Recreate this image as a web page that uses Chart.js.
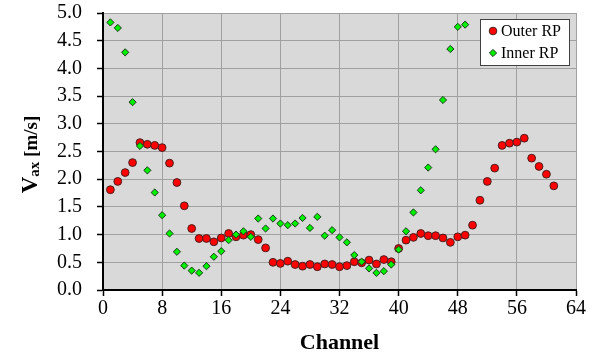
<!DOCTYPE html>
<html lang="en">
<head>
    <meta charset="UTF-8">
    <title>Vax per channel</title>
    <script src="https://cdn.jsdelivr.net/npm/chart.js"></script>
    <style>
        html, body { margin: 0; padding: 0; background: #ffffff; }
        #wrap { width: 598px; height: 358px; }
    </style>
</head>
<body>
    <div id="wrap"><canvas id="vaxChart"></canvas></div>
    <script>
        // values
        const outerChannels = [1, 2, 3, 4, 5, 6, 7, 8, 9, 10, 11, 12, 13, 14, 15, 16, 17, 18, 19, 20,
            21, 22, 23, 24, 25, 26, 27, 28, 29, 30, 31, 32, 33, 34, 35, 36, 37, 38, 39, 40,
            41, 42, 43, 44, 45, 46, 47, 48, 49, 50, 51, 52, 53, 54, 55, 56, 57, 58, 59, 60, 61];
        const outerRP = [1.81, 1.96, 2.12, 2.30, 2.66, 2.63, 2.61, 2.57, 2.29, 1.94,
            1.52, 1.11, 0.93, 0.93, 0.87, 0.94, 1.02, 0.96, 0.99, 1.00,
            0.91, 0.76, 0.50, 0.48, 0.52, 0.46, 0.43, 0.46, 0.42, 0.47,
            0.46, 0.42, 0.44, 0.51, 0.49, 0.54, 0.47, 0.55, 0.51, 0.75,
            0.90, 0.95, 1.02, 0.98, 0.98, 0.94, 0.86, 0.96, 0.99, 1.17,
            1.62, 1.96, 2.20, 2.61, 2.65, 2.67, 2.74, 2.38, 2.23, 2.09, 1.88];

        const innerChannels = [1, 2, 3, 4, 5, 6, 7, 8, 9, 10, 11, 12, 13, 14, 15, 16, 17, 18, 19, 20,
            21, 22, 23, 24, 25, 26, 27, 28, 29, 30, 31, 32, 33, 34, 35, 36, 37, 38, 39, 40,
            41, 42, 43, 44, 45, 46, 47, 48, 49];
        const innerRP = [4.83, 4.73, 4.29, 3.39, 2.60, 2.16, 1.76, 1.35, 1.02, 0.69,
            0.44, 0.35, 0.31, 0.43, 0.60, 0.70, 0.90, 1.00, 1.06, 0.96,
            1.29, 1.11, 1.29, 1.20, 1.17, 1.20, 1.30, 1.12, 1.32, 0.98,
            1.08, 0.95, 0.86, 0.63, 0.51, 0.39, 0.31, 0.34, 0.46, 0.73,
            1.06, 1.40, 1.80, 2.21, 2.54, 3.43, 4.35, 4.75, 4.79];

        const seriesNames = ["Outer RP", "Inner RP"];
        const xTicks = [0, 8, 16, 24, 32, 40, 48, 56, 64];
        const yTicks = [0, 0.5, 1, 1.5, 2, 2.5, 3, 3.5, 4, 4.5, 5];

        const serif = "'Liberation Serif', 'Times New Roman', serif";

        function toPoints(xs, ys) {
            return xs.map((x, i) => ({ x: x, y: ys[i] }));
        }

        // grey plot background
        const plotBackground = {
            id: "plotBackground",
            beforeDraw(chart) {
                const { ctx, chartArea: a } = chart;
                ctx.save();
                ctx.fillStyle = "#d9d9d9";
                ctx.fillRect(a.left, a.top, a.right - a.left, a.bottom - a.top);
                ctx.restore();
            }
        };

        // axis titles (y title needs a subscript) and the boxed legend inside the plot
        const titlesAndLegend = {
            id: "titlesAndLegend",
            afterDraw(chart) {
                const { ctx, chartArea: a } = chart;
                ctx.save();
                ctx.fillStyle = "#000";

                // x title
                ctx.font = "bold 22px " + serif;
                ctx.textAlign = "center";
                ctx.textBaseline = "middle";
                ctx.fillText("Channel", (a.left + a.right) / 2, 343);

                // y title: V_ax [m/s]
                const parts = [
                    { t: "V", f: "bold 23px " + serif, dy: 0 },
                    { t: "ax", f: "bold 15px " + serif, dy: 2 },
                    { t: " [m/s]", f: "bold 19px " + serif, dy: 0 }
                ];
                let total = 0;
                parts.forEach(p => { ctx.font = p.f; p.w = ctx.measureText(p.t).width; total += p.w; });
                const cy = (a.top + a.bottom) / 2 + 3;
                ctx.rotate(-Math.PI / 2);
                ctx.textAlign = "left";
                ctx.textBaseline = "alphabetic";
                let pos = -(cy + total / 2);
                parts.forEach(p => {
                    ctx.font = p.f;
                    ctx.fillText(p.t, pos, 36.7 + p.dy);
                    pos += p.w;
                });
                ctx.setTransform(1, 0, 0, 1, 0, 0);

                // legend
                const bx = a.right - 96, by = a.top + 6, bw = 89, bh = 46;
                ctx.fillStyle = "#ffffff";
                ctx.fillRect(bx, by, bw, bh);
                ctx.strokeStyle = "#404040";
                ctx.lineWidth = 1;
                ctx.strokeRect(bx + 0.5, by + 0.5, bw, bh);
                const order = [1, 0]; // Outer first, Inner second
                order.forEach((di, row) => {
                    const ds = chart.data.datasets[di];
                    const ry = by + 12 + row * 22;
                    ctx.fillStyle = ds.backgroundColor;
                    ctx.strokeStyle = ds.borderColor;
                    ctx.lineWidth = 1;
                    Chart.helpers.drawPoint(ctx, {
                        pointStyle: ds.pointStyle, rotation: 0,
                        radius: ds.pointStyle === "circle" ? 3.8 : 3.6, borderWidth: 1
                    }, bx + 13, ry);
                    ctx.fillStyle = "#000";
                    ctx.font = "16px " + serif;
                    ctx.textAlign = "left";
                    ctx.textBaseline = "middle";
                    ctx.fillText(ds.label, bx + 21, ry + 1);
                });
                ctx.restore();
            }
        };

        new Chart(document.getElementById("vaxChart"), {
            type: "scatter",
            data: {
                datasets: [
                    {
                        label: seriesNames[1],
                        data: toPoints(innerChannels, innerRP),
                        pointStyle: "rectRot",
                        pointRadius: 3.6,
                        backgroundColor: "#00ee00",
                        borderColor: "#1a3a1a",
                        borderWidth: 1,
                        order: 0
                    },
                    {
                        label: seriesNames[0],
                        data: toPoints(outerChannels, outerRP),
                        pointStyle: "circle",
                        pointRadius: 3.9,
                        backgroundColor: "#ff0000",
                        borderColor: "#4a2020",
                        borderWidth: 1,
                        order: 1
                    }
                ]
            },
            options: {
                responsive: true,
                maintainAspectRatio: false,
                animation: false,
                clip: false,
                layout: { padding: { top: 13, right: 22, bottom: 0, left: 0 } },
                plugins: {
                    legend: { display: false },
                    tooltip: { enabled: false }
                },
                scales: {
                    x: {
                        type: "linear",
                        min: 0,
                        max: 64,
                        afterBuildTicks: s => { s.ticks = xTicks.map(v => ({ value: v })); },
                        afterFit: s => { s.height = 68; s.paddingLeft = 0; s.paddingRight = 0; },
                        grid: { color: "#a0a0a0", lineWidth: 1, tickColor: "#000", tickLength: 6, tickWidth: 1.5 },
                        border: { color: "#000", width: 2 },
                        ticks: { color: "#000", padding: 1, maxRotation: 0, autoSkip: false, font: { family: serif, size: 20 } }
                    },
                    y: {
                        min: 0,
                        max: 5,
                        afterBuildTicks: s => { s.ticks = yTicks.map(v => ({ value: v })); },
                        afterFit: s => { s.width = 103; s.paddingTop = 0; s.paddingBottom = 0; },
                        grid: { color: "#a0a0a0", lineWidth: 1, tickColor: "#000", tickLength: 6, tickWidth: 1.5 },
                        border: { color: "#000", width: 2 },
                        ticks: {
                            color: "#000", padding: 15, autoSkip: false,
                            font: { family: serif, size: 20 },
                            callback: v => v.toFixed(1)
                        }
                    }
                }
            },
            plugins: [plotBackground, titlesAndLegend]
        });
    </script>
</body>
</html>
